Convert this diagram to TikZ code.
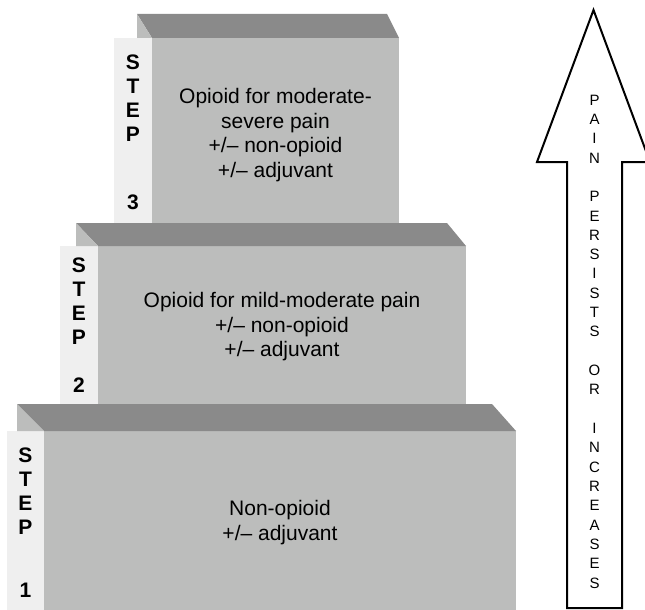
\documentclass[tikz,border=0pt]{standalone}
\usepackage{fontspec}
\setmainfont{Liberation Sans}
\definecolor{topgray}{HTML}{8A8A8A}
\definecolor{frontgray}{HTML}{BCBDBC}
\definecolor{tabgray}{HTML}{EFEFEF}

\begin{document}
\begin{tikzpicture}[x=1pt,y=-1pt,
    steptext/.style={font=\fontsize{21}{24.5}\selectfont,align=center,inner sep=0pt},
    steplabel/.style={font=\bfseries\fontsize{21}{24.2}\selectfont,align=center,inner sep=0pt}]
  \useasboundingbox (0,0) rectangle (645,610) ;
  \clip (0,0) rectangle (645,610) ;
  % step 3
  \fill[frontgray] (152,38) rectangle (399,223) ;
  \fill[tabgray] (114,38) rectangle (152,223) ;
  \fill[topgray] (137,14)--(387,14)--(399,38)--(152,38)--cycle ;
  \fill[frontgray] (137,14)--(152,38)--(137,38)--cycle ;
  \node[steptext] (t3) at (275.5,135) {Opioid for moderate-\\severe pain\\+/-- non-opioid\\+/-- adjuvant} ;
  \node[steplabel,anchor=north] (s3) at (133,54.5) {S\\T\\E\\P} ;
  \node[steplabel] (n3) at (133,202) {3} ;
  % step 2
  \fill[frontgray] (98,246) rectangle (466,404) ;
  \fill[tabgray] (60,246) rectangle (98,404) ;
  \fill[topgray] (76,223)--(447,223)--(466,246)--(98,246)--cycle ;
  \fill[frontgray] (76,223)--(98,246)--(76,246)--cycle ;
  \node[steptext] (t2) at (282,327) {Opioid for mild-moderate pain\\+/-- non-opioid\\+/-- adjuvant} ;
  \node[steplabel,anchor=north] (s2) at (79,257.5) {S\\T\\E\\P} ;
  \node[steplabel] (n2) at (79,385) {2} ;
  % step 1
  \fill[frontgray] (44,431) rectangle (516,610) ;
  \fill[tabgray] (7,431) rectangle (44,610) ;
  \fill[topgray] (17,404)--(492,404)--(516,431)--(44,431)--cycle ;
  \fill[frontgray] (17,404)--(44,431)--(17,431)--cycle ;
  \node[steptext] (t1) at (280,522.5) {Non-opioid\\+/-- adjuvant} ;
  \node[steplabel,anchor=north] (s1) at (25.5,447.5) {S\\T\\E\\P} ;
  \node[steplabel] (n1) at (25.5,590) {1} ;
  % arrow
  \draw[line width=2pt,fill=white,line join=miter] (567,608)--(567,162)--(537,162)--(593.5,10)
    --(650,162)--(622,162)--(622,608)--cycle ;
  \node[font=\fontsize{15}{19.32}\selectfont,align=center,inner sep=0pt] (pain) at (594.5,341.5)
    {P\\A\\I\\N\\[19.32pt]P\\E\\R\\S\\I\\S\\T\\S\\[19.32pt]O\\R\\[19.32pt]I\\N\\C\\R\\E\\A\\S\\E\\S} ;
\end{tikzpicture}
\end{document}
